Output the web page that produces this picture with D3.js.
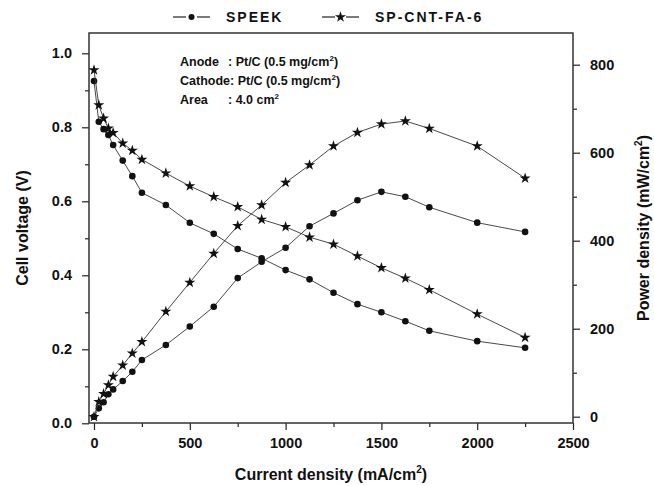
<!DOCTYPE html>
<html>
<head>
<meta charset="utf-8">
<script src="https://cdn.jsdelivr.net/npm/d3@7"></script>
<style>
  body { margin: 0; background: #fff; }
  text { font-family: "Liberation Sans", Arial, sans-serif; font-weight: bold; fill: #111; }
</style>
</head>
<body>
<svg id="chart" width="654" height="486"></svg>
<script>
// current density (mA/cm2)
const current = [0, 25, 50, 75, 100, 150, 200, 250, 375, 500, 625, 750, 875, 1000, 1125, 1250, 1375, 1500, 1625, 1750, 2000, 2250];
// cell voltage (V)
const speekVoltage = [0.925, 0.815, 0.795, 0.779, 0.752, 0.71, 0.668, 0.623, 0.59, 0.542, 0.512, 0.471, 0.446, 0.414, 0.389, 0.353, 0.322, 0.30, 0.276, 0.25, 0.222, 0.204];
const spcntVoltage = [0.955, 0.86, 0.824, 0.797, 0.785, 0.757, 0.737, 0.713, 0.676, 0.641, 0.612, 0.585, 0.551, 0.531, 0.503, 0.484, 0.452, 0.42, 0.392, 0.361, 0.295, 0.232];
// power density (mW/cm2)
const speekPower = [0, 19, 33, 51, 62, 81, 102, 129, 163, 205, 250, 315, 352, 384, 433, 462, 492, 511, 500, 476, 441, 420];
const spcntPower = [0, 34, 52, 72, 91, 117, 144, 170, 239, 305, 371, 434, 481, 532, 572, 615, 646, 665, 672, 655, 615, 542];

const xTicks = [0, 500, 1000, 1500, 2000, 2500];
const xMinor = [250, 750, 1250, 1750, 2250];
const leftTicks = [0, 0.2, 0.4, 0.6, 0.8, 1.0];
const leftMinor = [0.1, 0.3, 0.5, 0.7, 0.9];
const rightTicks = [0, 200, 400, 600, 800];
const rightMinor = [100, 300, 500, 700];

const frame = { left: 89, right: 573, top: 33, bottom: 423 };

const vis = d3.select('#chart');

const xScale = d3.scaleLinear().domain([0, 2500]).range([94, 573]);
const yLeft = d3.scaleLinear().domain([0, 1]).range([423.3, 53.3]);
const yRight = d3.scaleLinear().domain([0, 800]).range([416.7, 64.7]);

// axes (ticks only, the frame is drawn separately)
function addAxis(axis, transform, cls) {
  const g = vis.append('g').attr('class', cls).attr('transform', transform).call(axis);
  g.select('.domain').remove();
  g.selectAll('.tick line').attr('stroke', '#222').attr('stroke-width', 1.2);
  g.selectAll('.tick text').style('font-size', '14.5px').attr('fill', '#111');
  return g;
}

addAxis(d3.axisBottom(xScale).tickValues(xTicks).tickSize(7).tickPadding(8).tickFormat(d3.format('d')),
  'translate(0,' + frame.bottom + ')', 'x-axis');
addAxis(d3.axisBottom(xScale).tickValues(xMinor).tickSize(4).tickFormat(''),
  'translate(0,' + frame.bottom + ')', 'x-minor');

addAxis(d3.axisLeft(yLeft).tickValues(leftTicks).tickSize(7).tickPadding(10).tickFormat(d3.format('.1f')),
  'translate(' + frame.left + ',0)', 'y-left');
addAxis(d3.axisLeft(yLeft).tickValues(leftMinor).tickSize(4).tickFormat(''),
  'translate(' + frame.left + ',0)', 'y-left-minor');

addAxis(d3.axisRight(yRight).tickValues(rightTicks).tickSize(7).tickPadding(10).tickFormat(d3.format('d')),
  'translate(' + frame.right + ',0)', 'y-right');
addAxis(d3.axisRight(yRight).tickValues(rightMinor).tickSize(4).tickFormat(''),
  'translate(' + frame.right + ',0)', 'y-right-minor');

// frame
vis.append('rect')
  .attr('x', frame.left).attr('y', frame.top)
  .attr('width', frame.right - frame.left).attr('height', frame.bottom - frame.top)
  .attr('fill', 'none').attr('stroke', '#333').attr('stroke-width', 1.5);

// series
const starSym = d3.symbol().type(d3.symbolStar).size(38);

function drawSeries(values, yScale, marker) {
  const pts = current.map((c, i) => ({ x: c, y: values[i] }));
  const lineGen = d3.line().x(d => xScale(d.x)).y(d => yScale(d.y));
  vis.append('path')
    .attr('d', lineGen(pts))
    .attr('fill', 'none')
    .attr('stroke', '#333')
    .attr('stroke-width', 0.9);
  const g = vis.append('g');
  if (marker === 'dot') {
    g.selectAll('circle').data(pts).join('circle')
      .attr('cx', d => xScale(d.x)).attr('cy', d => yScale(d.y))
      .attr('r', 3.3).attr('fill', '#111');
  } else {
    g.selectAll('path').data(pts).join('path')
      .attr('d', starSym)
      .attr('transform', d => 'translate(' + xScale(d.x) + ',' + yScale(d.y) + ')')
      .attr('fill', '#111');
  }
}

drawSeries(speekVoltage, yLeft, 'dot');
drawSeries(speekPower, yRight, 'dot');
drawSeries(spcntVoltage, yLeft, 'star');
drawSeries(spcntPower, yRight, 'star');

// axis titles
vis.append('text')
  .attr('x', (frame.left + frame.right) / 2).attr('y', 480)
  .style('text-anchor', 'middle').style('font-size', '16px')
  .html('Current density (mA/cm<tspan dy="-7" font-size="10px">2</tspan><tspan dy="7">)</tspan>');

vis.append('text')
  .attr('transform', 'translate(28,' + (frame.top + frame.bottom) / 2 + ') rotate(-90)')
  .style('text-anchor', 'middle').style('font-size', '16px')
  .text('Cell voltage (V)');

vis.append('text')
  .attr('transform', 'translate(649,' + (frame.top + frame.bottom) / 2 + ') rotate(-90)')
  .style('text-anchor', 'middle').style('font-size', '16px')
  .html('Power density (mW/cm<tspan dy="-7" font-size="10px">2</tspan><tspan dy="7">)</tspan>');

// legend: short dash, marker, short dash
const legend = vis.append('g');
[{ label: 'SPEEK', marker: 'dot', x: 173 }, { label: 'SP-CNT-FA-6', marker: 'star', x: 322 }].forEach(item => {
  const ly = 17;
  [[item.x, item.x + 13], [item.x + 24, item.x + 37]].forEach(seg => {
    legend.append('line')
      .attr('x1', seg[0]).attr('x2', seg[1]).attr('y1', ly).attr('y2', ly)
      .attr('stroke', '#333').attr('stroke-width', 1.3);
  });
  if (item.marker === 'dot') {
    legend.append('circle').attr('cx', item.x + 18.5).attr('cy', ly).attr('r', 3).attr('fill', '#111');
  } else {
    legend.append('path').attr('d', starSym).attr('transform', 'translate(' + (item.x + 18.5) + ',' + ly + ')').attr('fill', '#111');
  }
  legend.append('text')
    .attr('x', item.x + 53).attr('y', ly + 5)
    .style('font-size', '14px').style('letter-spacing', '2px')
    .text(item.label);
});

// conditions note
const note = vis.append('g').style('font-size', '12.5px');
note.append('text').attr('x', 180).attr('y', 66).text('Anode');
note.append('text').attr('x', 228).attr('y', 66)
  .html(': Pt/C (0.5 mg/cm<tspan dy="-5" font-size="8px">2</tspan><tspan dy="5">)</tspan>');
note.append('text').attr('x', 180).attr('y', 85)
  .html('Cathode: Pt/C (0.5 mg/cm<tspan dy="-5" font-size="8px">2</tspan><tspan dy="5">)</tspan>');
note.append('text').attr('x', 180).attr('y', 104).text('Area');
note.append('text').attr('x', 228).attr('y', 104)
  .html(': 4.0 cm<tspan dy="-5" font-size="8px">2</tspan>');
</script>
</body>
</html>
